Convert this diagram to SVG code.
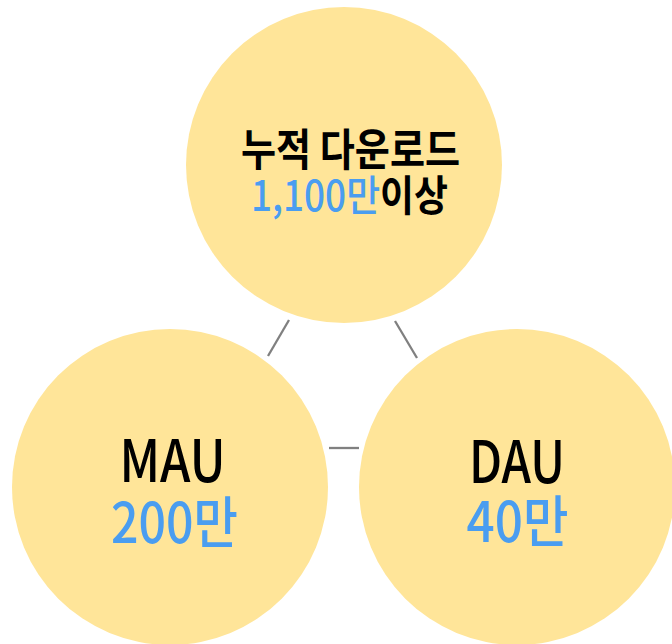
<svg xmlns="http://www.w3.org/2000/svg" width="672" height="644" viewBox="0 0 672 644">
<style>
.c{fill:#FFE599}
.k{fill:#000000}
.b{fill:#4A9DF0}
text{font-family:"Noto Sans CJK KR","Noto Sans",sans-serif;text-anchor:middle;font-weight:500}
.bold{font-weight:bold}
.con line{stroke:#808080;stroke-width:2.3}
</style>
<rect width="672" height="644" fill="#ffffff"/>
<g class="con" id="connectors">
<line x1="289" y1="320" x2="268" y2="356"/>
<line x1="395" y1="321" x2="417" y2="358"/>
<line x1="329" y1="448" x2="359" y2="448"/>
</g>
<g id="node-downloads">
<circle class="c" cx="344" cy="165" r="158"/>
<text class="k bold" x="350.5" y="166" font-size="44" textLength="219" lengthAdjust="spacingAndGlyphs">누적 다운로드</text>
<text x="349.5" y="211" font-size="42" textLength="197" lengthAdjust="spacingAndGlyphs"><tspan class="b">1,100만</tspan><tspan class="k bold">이상</tspan></text>
</g>
<g id="node-mau">
<circle class="c" cx="170" cy="487" r="158"/>
<text class="k" x="172.5" y="482" font-size="58" textLength="106" lengthAdjust="spacingAndGlyphs">MAU</text>
<text class="b" x="174.5" y="543" font-size="56" textLength="127" lengthAdjust="spacingAndGlyphs">200만</text>
</g>
<g id="node-dau">
<circle class="c" cx="517" cy="487" r="158"/>
<text class="k" x="517" y="483" font-size="58" textLength="96" lengthAdjust="spacingAndGlyphs">DAU</text>
<text class="b" x="517.5" y="542" font-size="56" textLength="102" lengthAdjust="spacingAndGlyphs">40만</text>
</g>
</svg>
